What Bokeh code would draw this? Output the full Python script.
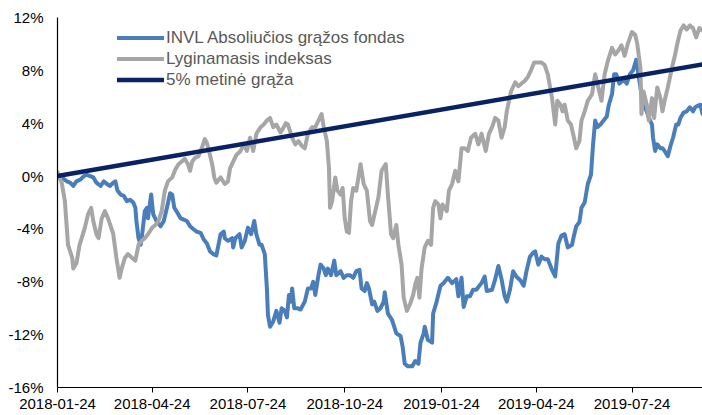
import pandas as pd
from bokeh.plotting import figure
from bokeh.models import (Range1d, FixedTicker, PrintfTickFormatter, DatetimeTickFormatter,
                          Legend, LegendItem)
from bokeh.embed import file_html
from bokeh.resources import INLINE

START = "2018-01-24"
tick_labels = ["2018-01-24", "2018-04-24", "2018-07-24", "2018-10-24",
               "2019-01-24", "2019-04-24", "2019-07-24"]
y_ticks = [-16, -12, -8, -4, 0, 4, 8, 12]

series_names = ["INVL Absoliučios grąžos fondas", "Lyginamasis indeksas", "5% metinė grąža"]

# days since START, value in %
fund_days = [0, 4, 9, 12, 15, 18, 22, 25, 28, 31, 34, 37, 41, 44, 47, 50, 53, 55, 57, 60, 63, 66, 69, 72,
             74, 75, 77, 79, 80, 83, 85, 86, 89, 91, 94, 98, 101, 104, 107, 109, 111, 113, 117, 120, 123,
             126, 129, 132, 136, 139, 142, 145, 148, 151, 155, 158, 159, 162, 166, 167, 169, 173, 175, 178,
             181, 184, 187, 189, 192, 194, 197, 199, 200, 202, 205, 208, 211, 213, 216, 218, 220, 222, 223,
             225, 228, 231, 235, 238, 241, 243, 245, 248, 250, 253, 255, 257, 260, 263, 265, 269, 272, 275,
             278, 281, 284, 287, 289, 292, 294, 296, 299, 301, 304, 307, 310, 311, 314, 318, 322, 326, 328,
             330, 333, 337, 340, 343, 345, 348, 349, 352, 356, 357, 360, 364, 367, 371, 375, 379, 381, 384,
             386, 389, 392, 395, 398, 403, 406, 408, 413, 416, 419, 422, 425, 427, 430, 433, 436, 440, 443,
             446, 449, 452, 454, 457, 460, 463, 466, 470, 473, 476, 479, 482, 485, 489, 490, 493, 496, 498,
             501, 504, 507, 509, 511, 513, 516, 519, 522, 524, 527, 529, 531, 534, 537, 539, 541, 544, 547,
             550, 554, 557, 560, 562, 565, 566, 568, 570, 573, 575, 577, 580, 583, 585, 588, 590, 592, 595,
             598, 601, 604, 606, 608, 611, 613]
fund_vals = [0.1, -0.1, -0.4, -0.5, -0.75, -0.4, -0.25, 0.0, 0.1, 0.0, -0.1, -0.5, -0.75, -0.4, -0.6, -0.75,
             -0.5, -0.4, -1.1, -1.4, -1.5, -1.9, -1.8, -2.0, -2.4, -3.4, -4.7, -5.2, -4.7, -2.65, -2.4, -3.2,
             -1.4, -2.9, -3.4, -3.8, -3.4, -2.4, -1.3, -1.4, -2.4, -2.65, -3.2, -3.3, -3.4, -3.8, -4.0, -4.2,
             -4.3, -4.8, -5.1, -5.7, -5.9, -6.0, -4.4, -4.2, -4.7, -4.9, -4.7, -5.4, -4.7, -4.4, -5.4, -4.9,
             -3.9, -4.4, -3.4, -4.4, -5.2, -5.2, -5.9, -8.5, -10.5, -11.4, -11.0, -10.2, -11.1, -10.0, -10.2,
             -10.7, -9.0, -9.5, -8.5, -10.0, -10.0, -10.1, -9.5, -8.5, -8.5, -8.0, -9.0, -7.5, -6.7, -7.0,
             -7.5, -7.0, -7.5, -6.4, -7.5, -7.2, -7.7, -7.5, -7.5, -7.7, -7.2, -7.1, -8.5, -8.7, -8.1, -8.5,
             -9.7, -9.5, -10.2, -10.0, -9.5, -8.8, -10.4, -10.9, -11.9, -12.1, -12.9, -14.2, -14.4, -14.4,
             -14.0, -14.2, -12.6, -11.9, -11.4, -12.4, -12.6, -10.4, -9.6, -8.3, -8.1, -7.7, -8.1, -7.8, -9.1,
             -7.7, -9.9, -9.1, -9.1, -8.6, -8.6, -8.1, -7.6, -8.7, -8.6, -7.8, -6.8, -7.8, -9.1, -9.5, -8.6,
             -7.2, -7.6, -7.9, -8.3, -7.1, -6.1, -5.8, -5.7, -6.7, -6.1, -6.3, -6.3, -7.1, -7.6, -5.1, -4.5,
             -4.4, -5.4, -5.2, -4.8, -3.8, -3.5, -2.4, -2.0, -0.6, 0.1, 2.4, 4.2, 3.7, 3.9, 4.2, 4.5, 5.4,
             6.2, 7.7, 7.7, 7.0, 7.2, 7.2, 7.0, 7.7, 8.0, 8.8, 6.7, 5.4, 4.9, 4.4, 3.9, 2.9, 1.9, 2.4, 2.1,
             2.1, 1.9, 1.5, 2.4, 2.9, 3.9, 3.9, 4.4, 4.8, 4.9, 5.2, 4.9, 5.2, 5.3, 5.4, 4.7]

bench_days = [0, 4, 7, 10, 14, 15, 18, 21, 23, 26, 29, 32, 34, 37, 39, 42, 45, 48, 50, 53, 56, 59, 61, 64,
              67, 71, 74, 77, 80, 83, 86, 90, 93, 96, 99, 102, 105, 109, 112, 115, 118, 121, 124, 126, 128,
              131, 134, 137, 140, 142, 144, 147, 149, 151, 155, 159, 162, 164, 167, 170, 174, 177, 180, 183,
              186, 189, 193, 196, 199, 202, 205, 208, 212, 215, 217, 219, 223, 226, 229, 232, 235, 238, 242,
              245, 248, 251, 253, 256, 258, 259, 261, 264, 266, 269, 271, 273, 275, 277, 279, 281, 284, 288,
              291, 294, 297, 299, 302, 305, 308, 312, 314, 317, 319, 322, 324, 327, 329, 332, 335, 338, 340,
              342, 344, 346, 349, 352, 355, 357, 359, 362, 364, 366, 370, 372, 375, 378, 381, 384, 387, 390,
              393, 397, 400, 403, 407, 410, 413, 416, 419, 422, 425, 427, 431, 435, 438, 441, 444, 447, 450,
              453, 457, 460, 463, 466, 470, 473, 475, 478, 480, 482, 485, 488, 490, 493, 496, 498, 501, 504,
              508, 511, 514, 517, 520, 523, 527, 530, 533, 536, 539, 542, 546, 549, 551, 554, 555, 557, 560,
              562, 565, 567, 570, 573, 575, 577, 580, 584, 587, 589, 592, 595, 598, 601, 604, 607, 610, 613]
bench_vals = [0.3, -0.5, -1.9, -5.2, -6.2, -7.0, -6.6, -5.2, -4.7, -3.9, -2.9, -2.4, -3.4, -4.4, -4.7, -3.2,
              -2.65, -3.2, -3.65, -4.4, -6.2, -7.7, -7.0, -6.2, -5.9, -6.2, -6.4, -5.2, -4.9, -4.7, -4.4,
              -3.9, -3.7, -3.4, -2.65, -1.1, -0.4, -0.1, 0.5, 0.9, 1.1, 1.3, 0.9, 0.4, 1.1, 1.4, 1.5, 2.1,
              2.8, 2.5, 1.9, 0.9, -0.1, -0.5, -0.1, -0.6, -0.4, 0.6, 1.1, 1.6, 1.9, 2.4, 1.9, 2.9, 1.9, 3.2,
              3.7, 3.9, 4.2, 4.4, 3.7, 3.9, 3.3, 3.7, 4.0, 3.9, 2.9, 2.4, 2.65, 2.3, 2.1, 3.2, 3.7, 3.7, 4.2,
              4.7, 3.7, 2.65, 0.6, -2.4, -1.9, -0.1, -1.1, -1.4, -0.9, -3.2, -4.2, -4.3, -1.9, -0.9, -1.1,
              0.9, -0.6, -1.1, -3.4, -3.7, -2.65, -1.6, 0.4, 0.9, -1.4, -4.4, -4.7, -3.7, -5.2, -6.7, -9.2,
              -10.2, -9.7, -9.0, -8.2, -7.7, -9.2, -7.0, -5.4, -4.9, -5.2, -2.4, -1.9, -2.15, -3.2, -2.15,
              -2.65, -1.1, -0.6, 0.4, -0.4, 2.1, 2.1, 1.9, 2.9, 3.2, 2.4, 3.2, 1.9, 3.2, 3.7, 4.4, 4.2, 2.9,
              3.7, 4.9, 6.4, 7.1, 6.8, 7.0, 7.2, 7.5, 8.0, 8.6, 8.6, 8.6, 8.4, 7.7, 5.9, 3.9, 5.7, 5.4, 4.9,
              5.4, 4.2, 3.9, 3.2, 2.1, 2.65, 4.2, 4.9, 5.7, 6.2, 7.7, 6.7, 5.7, 7.7, 8.7, 9.7, 9.2, 9.5, 9.9,
              9.1, 10.0, 10.9, 10.7, 10.0, 8.2, 4.7, 6.4, 5.4, 4.2, 5.9, 4.4, 6.7, 5.9, 4.9, 5.7, 6.7, 8.2,
              9.2, 10.0, 11.0, 11.4, 11.1, 11.4, 11.2, 10.5, 11.2, 11.0]

target_days = [0, 613]
target_vals = [0.0, 8.45]

colors = ["#4A7EBB", "#A6A6A6", "#082264"]

start = pd.Timestamp(START)


def to_dates(days):
    return [start + pd.Timedelta(days=d) for d in days]


p = figure(width=702, height=415, x_axis_type="datetime", output_backend="svg",
           toolbar_location=None, min_border_left=57, min_border_right=0,
           min_border_top=17, min_border_bottom=28,
           x_range=Range1d(start=start, end=start + pd.Timedelta(days=613)),
           y_range=Range1d(start=-16, end=12))
p.outline_line_color = None
p.grid.visible = False
p.background_fill_color = "white"

r1 = p.line(to_dates(fund_days), fund_vals, line_color=colors[0], line_width=4,
            line_join="round", line_cap="round")
r2 = p.line(to_dates(bench_days), bench_vals, line_color=colors[1], line_width=4,
            line_join="round", line_cap="round")
r3 = p.line(to_dates(target_days), target_vals, line_color=colors[2], line_width=4.5,
            line_join="round", line_cap="round")

tick_ms = [pd.Timestamp(t).value / 1e6 for t in tick_labels]
p.xaxis.ticker = FixedTicker(ticks=tick_ms)
fmt = "%Y-%m-%d"
p.xaxis.formatter = DatetimeTickFormatter(milliseconds=fmt, seconds=fmt, minsec=fmt, minutes=fmt,
                                          hourmin=fmt, hours=fmt, days=fmt, months=fmt, years=fmt)
p.yaxis.ticker = FixedTicker(ticks=y_ticks)
p.yaxis.formatter = PrintfTickFormatter(format="%d%%")

for ax in (p.xaxis[0], p.yaxis[0]):
    ax.axis_line_color = "#000000"
    ax.axis_line_width = 1.2
    ax.major_tick_line_color = "#000000"
    ax.minor_tick_line_color = None
    ax.minor_tick_in = 0
    ax.minor_tick_out = 0
    ax.major_tick_in = 0
    ax.major_label_text_font = "Liberation Sans"
    ax.major_label_text_font_size = "15px"
    ax.major_label_text_color = "#000000"

p.xaxis.major_tick_out = 5
p.xaxis.major_label_standoff = 6
p.yaxis.major_tick_out = 0
p.yaxis.major_tick_line_color = None
p.yaxis.major_label_standoff = 14

legend = Legend(items=[LegendItem(label=series_names[0], renderers=[r1]),
                       LegendItem(label=series_names[1], renderers=[r2]),
                       LegendItem(label=series_names[2], renderers=[r3])],
                location=(60, 297), glyph_width=47, glyph_height=21, label_height=21,
                label_standoff=2, spacing=0, padding=0, margin=0,
                border_line_color=None, background_fill_alpha=0,
                label_text_font="Liberation Sans", label_text_font_size="17px",
                label_text_color="#595959")
p.add_layout(legend)

open("out.html", "w").write(file_html(p, INLINE))
